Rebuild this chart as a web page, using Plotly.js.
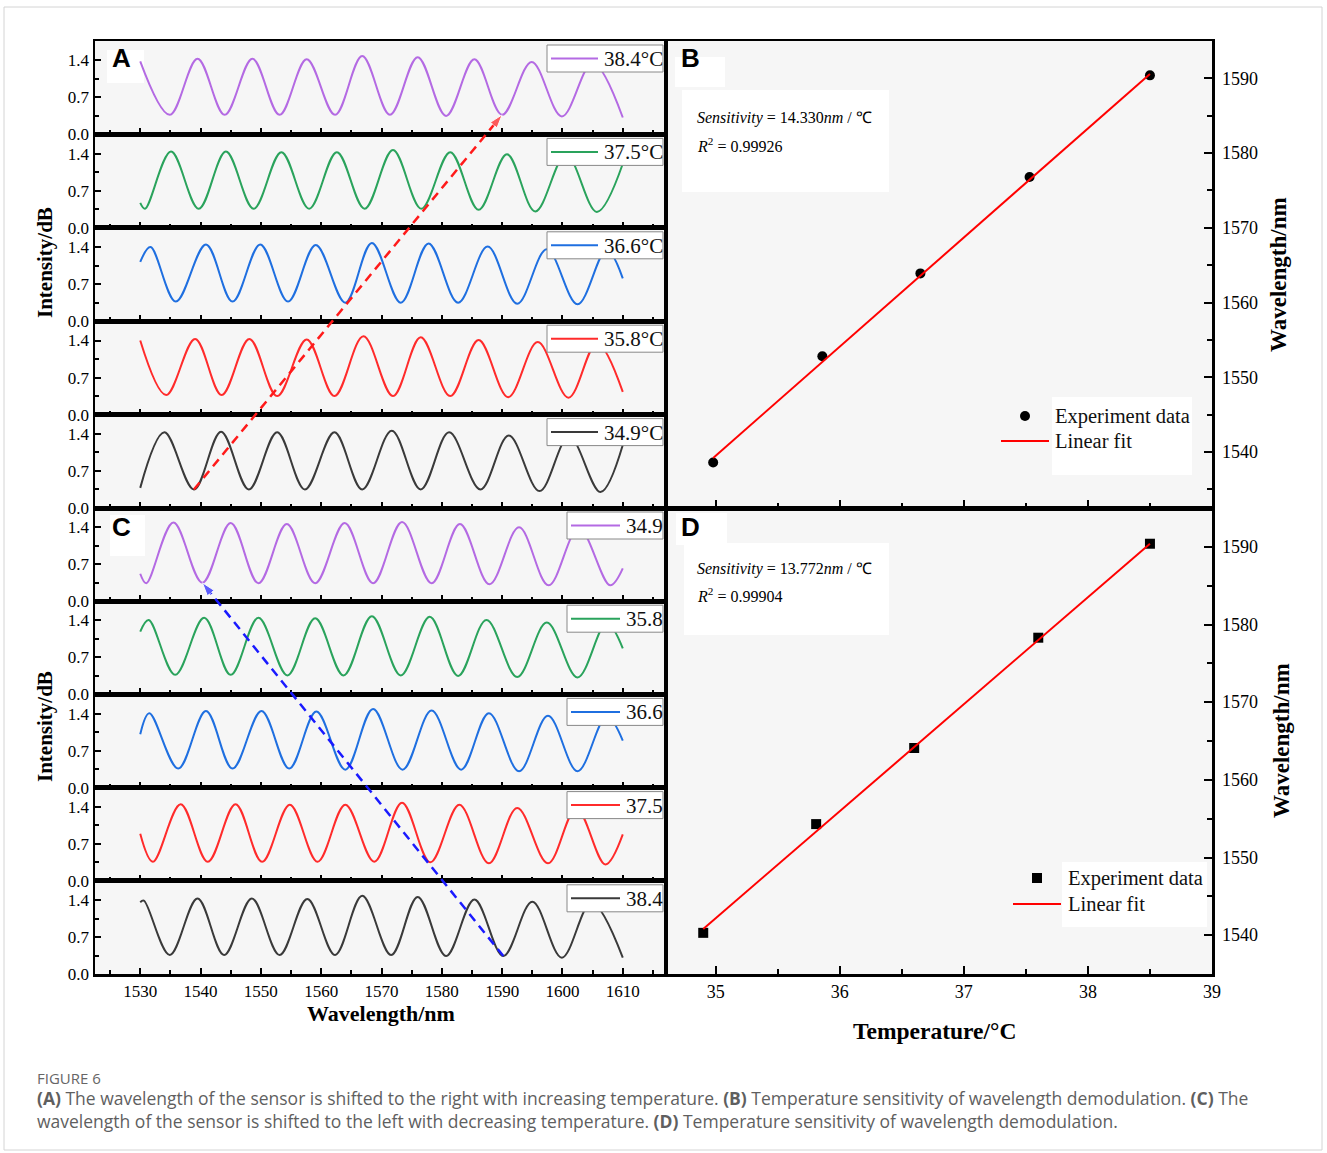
<!DOCTYPE html>
<html><head><meta charset="utf-8">
<script src="https://cdn.plot.ly/plotly-3.0.1.min.js"></script>
<style>html,body{margin:0;padding:0;background:#fff;}#chart{width:1327px;height:1153px;}</style>
</head><body><div id="chart"></div>
<script>
// ---------- DATA ----------
// Panel A (increasing temperature), wavelength (nm) / intensity of extrema
const a384x=[1530,1534.9,1539.5,1544.0,1548.6,1553.1,1557.6,1562.3,1566.8,1571.4,1576.0,1580.7,1585.4,1590.0,1594.9,1599.9,1605.0,1610];
const a384y=[1.38,0.37,1.43,0.37,1.43,0.37,1.42,0.37,1.48,0.37,1.46,0.35,1.42,0.37,1.37,0.34,1.35,0.32];
const a375x=[1530,1530.8,1535.1,1539.7,1544.2,1548.8,1553.4,1558.0,1562.6,1567.2,1571.9,1576.6,1581.4,1586.1,1590.8,1595.5,1600.6,1605.7,1610];
const a375y=[0.47,0.36,1.44,0.36,1.44,0.36,1.43,0.36,1.43,0.36,1.47,0.36,1.43,0.34,1.39,0.31,1.38,0.30,1.21];
const a366x=[1530,1531.7,1535.9,1540.9,1545.3,1549.9,1554.5,1559.1,1564.0,1568.4,1573.2,1577.8,1582.7,1587.6,1592.5,1597.4,1602.5,1607.3,1610];
const a366y=[1.12,1.40,0.37,1.45,0.37,1.45,0.37,1.44,0.35,1.48,0.35,1.47,0.35,1.41,0.33,1.36,0.32,1.35,0.81];
const a358x=[1530,1534.3,1539.1,1543.5,1548.1,1552.7,1557.6,1562.2,1567.0,1571.9,1576.5,1581.4,1586.1,1591.0,1595.9,1601.0,1605.7,1610];
const a358y=[1.40,0.37,1.43,0.37,1.43,0.35,1.42,0.35,1.48,0.35,1.46,0.35,1.41,0.33,1.37,0.32,1.35,0.43];
const a349x=[1530,1534.0,1538.9,1543.4,1548.0,1552.7,1557.3,1562.2,1566.8,1571.7,1576.5,1581.2,1586.4,1591.1,1596.2,1601.1,1606.3,1610];
const a349y=[0.38,1.43,0.35,1.44,0.35,1.43,0.35,1.43,0.35,1.46,0.35,1.43,0.35,1.37,0.32,1.35,0.30,1.19];
// Panel C (decreasing temperature)
const c349x=[1530,1531.0,1535.5,1540.3,1545.0,1549.6,1554.3,1559.0,1563.9,1568.6,1573.4,1578.3,1583.0,1587.9,1592.8,1597.7,1602.7,1607.9,1610];
const c349y=[0.52,0.34,1.49,0.35,1.48,0.34,1.46,0.34,1.48,0.34,1.50,0.34,1.46,0.32,1.40,0.30,1.38,0.30,0.62];
const c358x=[1530,1531.4,1535.8,1540.6,1545.0,1549.6,1554.4,1559.0,1563.7,1568.4,1573.2,1578.0,1582.7,1587.4,1592.5,1597.4,1602.5,1607.3,1610];
const c358y=[1.19,1.41,0.37,1.45,0.37,1.45,0.36,1.44,0.36,1.48,0.36,1.47,0.35,1.41,0.33,1.36,0.32,1.35,0.87];
const c366x=[1530,1531.5,1536.3,1540.9,1545.3,1550.1,1554.7,1559.2,1564.0,1568.6,1573.5,1578.3,1583.2,1587.8,1592.8,1597.6,1602.5,1607.3,1610];
const c366y=[1.01,1.41,0.36,1.45,0.36,1.45,0.36,1.44,0.34,1.49,0.34,1.46,0.34,1.41,0.31,1.36,0.31,1.35,0.89];
const c375x=[1530,1532.1,1536.7,1541.2,1545.8,1550.2,1554.8,1559.4,1564.0,1568.8,1573.4,1578.1,1582.9,1587.8,1592.5,1597.6,1602.3,1607.1,1610];
const c375y=[0.89,0.36,1.45,0.36,1.45,0.36,1.44,0.36,1.44,0.36,1.48,0.35,1.44,0.33,1.38,0.33,1.37,0.31,0.88];
const c384x=[1530,1530.6,1534.9,1539.5,1543.9,1548.5,1553.1,1557.7,1562.3,1566.8,1571.6,1576.0,1580.7,1585.4,1590.2,1595.0,1599.9,1604.8,1610];
const c384y=[1.36,1.39,0.36,1.43,0.36,1.43,0.36,1.42,0.36,1.48,0.36,1.46,0.34,1.41,0.34,1.37,0.31,1.35,0.31];
const labelsA=['38.4°C','37.5°C','36.6°C','35.8°C','34.9°C'];
const labelsC=['34.9','35.8','36.6','37.5','38.4'];
// Shift arrows: wavelength, row index (0 = top row), intensity
const arrowAX=[1538.9,1590.0], arrowARow=[4,0], arrowAY=[0.35,0.37];
const arrowCX=[1590.2,1540.3], arrowCRow=[4,0], arrowCY=[0.34,0.35];
// Panel B
const tempB=[34.98,35.86,36.65,37.53,38.5];
const wlB=[1538.6,1552.8,1563.9,1576.8,1590.4];
const fitBx=[34.98,38.5], fitBy=[1539.2,1590.6];
// Panel D
const tempD=[34.9,35.81,36.6,37.6,38.5];
const wlD=[1540.3,1554.3,1564.1,1578.3,1590.4];
const fitDx=[34.9,38.5], fitDy=[1540.8,1590.4];
// Tick labels
const intensityTickVals=[0,0.7,1.4];
const intensityTickText=['0.0','0.7','1.4'];
const intensityMinor=[0.35,1.05];
const fitLegend=['Experiment data','Linear fit'];

// ---------- STYLE ----------
const W=1327,H=1153;
const px=v=>v/W, py=v=>1-v/H;
const SERIF='Liberation Serif, Times New Roman, serif';
const SANS='Liberation Sans, Arial, sans-serif';
const COLORS=['#b46ae3','#2aa35c','#1f6fe0','#ff2b2b','#3a3a3a'];
const YMAX=1.765;
const XR=[1522.5,1617];
const LW=2.5;

const layout={width:W,height:H,margin:{l:0,r:0,t:0,b:0},paper_bgcolor:'#fff',plot_bgcolor:'rgba(0,0,0,0)',
  hovermode:false,showlegend:false,shapes:[],annotations:[],font:{family:SERIF,color:'#000'}};
const traces=[];

function rect(x0,y0,x1,y1,fill,line,layer){layout.shapes.push({type:'rect',xref:'paper',yref:'paper',x0:px(x0),x1:px(x1),y0:py(y1),y1:py(y0),
  fillcolor:fill,line:line||{width:0},layer:layer||'below'});}
function seg(x0,x1,y,color,w){layout.shapes.push({type:'line',xref:'paper',yref:'paper',x0:px(x0),x1:px(x1),y0:py(y),y1:py(y),
  line:{color:color,width:w||2},layer:'above'});}
function ann(x,y,text,font,o){layout.annotations.push(Object.assign({xref:'paper',yref:'paper',x:px(x),y:py(y),text:text,showarrow:false,
  font:font,xanchor:'center',yanchor:'middle'},o||{}));}

const waves=[[a384x,a384y],[a375x,a375y],[a366x,a366y],[a358x,a358y],[a349x,a349y],
             [c349x,c349y],[c358x,c358y],[c366x,c366y],[c375x,c375y],[c384x,c384y]];
const names=labelsA.concat(labelsC);
const cols=COLORS.concat(COLORS);
const LEGF={family:SERIF,size:21,color:'#111'};

function rowTop(i){return i<5?41+i*(467/5):508+(i-5)*(466/5);}
function rowH(i){return i<5?467/5:466/5;}

waves.forEach((w,i)=>{
  const k=i+1, s=k===1?'':String(k);
  const top=rowTop(i), bot=top+rowH(i);
  traces.push({type:'scatter',mode:'lines',x:w[0],y:w[1],name:names[i],xaxis:'x'+s,yaxis:'y'+s,
    line:{color:cols[i],width:2,shape:'spline',smoothing:1}});
  layout['xaxis'+s]={domain:[px(95),px(665)],range:XR,anchor:'y'+s,showline:true,mirror:true,linewidth:LW,linecolor:'#000',
    ticks:'inside',ticklen:6,tickwidth:2,tickcolor:'#000',tick0:1530,dtick:10,
    minor:{ticks:'inside',ticklen:4,tickwidth:2,tickcolor:'#000',tick0:1525,dtick:5,showgrid:false},
    showticklabels:i===9,tickfont:{family:SERIF,size:17,color:'#000'},showgrid:false,zeroline:false,fixedrange:true};
  layout['yaxis'+s]={domain:[py(bot),py(top)],range:[0,YMAX],anchor:'x'+s,showline:true,mirror:true,linewidth:LW,linecolor:'#000',
    ticks:'inside',ticklen:6,tickwidth:2,tickcolor:'#000',tickmode:'array',tickvals:intensityTickVals,ticktext:intensityTickText,
    minor:{ticks:'inside',ticklen:4,tickwidth:2,tickcolor:'#000',tickmode:'array',tickvals:intensityMinor,showgrid:false},
    tickfont:{family:SERIF,size:17,color:'#000'},showgrid:false,zeroline:false,fixedrange:true};
  // per-row legend box
  const narrow=i>=5;
  const bx0=narrow?567:547, lx0=narrow?571:551, lx1=narrow?620:598, tx=narrow?624:602;
  const ly=top+4;
  rect(bx0,ly,663,ly+27,'#fff',{color:'#888',width:1},'above');
  seg(lx0,lx1,ly+13.5,cols[i],2);
  ann(tx,ly+14,names[i],LEGF,{xanchor:'left'});
});

// Panels B & D
function rightAxes(s,top,bot,yr,labels){
  layout['xaxis'+s]={domain:[px(666),px(1212)],range:[34.6,39],anchor:'y'+s,showline:true,mirror:true,linewidth:LW,linecolor:'#000',
    ticks:'inside',ticklen:8,tickwidth:2,tickcolor:'#000',tick0:35,dtick:1,
    minor:{ticks:'inside',ticklen:5,tickwidth:2,tickcolor:'#000',dtick:0.5,tick0:34.5,showgrid:false},
    showticklabels:labels,tickfont:{family:SERIF,size:18,color:'#000'},showgrid:false,zeroline:false,fixedrange:true};
  layout['yaxis'+s]={domain:[py(bot),py(top)],range:yr,anchor:'x'+s,side:'right',showline:true,mirror:true,linewidth:LW,linecolor:'#000',
    ticks:'inside',ticklen:8,tickwidth:2,tickcolor:'#000',tick0:1540,dtick:10,ticklabelstandoff:4,
    minor:{ticks:'inside',ticklen:5,tickwidth:2,tickcolor:'#000',dtick:5,tick0:1535,showgrid:false},
    tickfont:{family:SERIF,size:18,color:'#000'},showgrid:false,zeroline:false,fixedrange:true};
}
rightAxes('11',41,508,[1532.5,1595],false);
rightAxes('12',508,974,[1535,1595],true);
traces.push({type:'scatter',mode:'markers',x:tempB,y:wlB,xaxis:'x11',yaxis:'y11',name:fitLegend[0],
  marker:{symbol:'circle',size:10,color:'#000'}});
traces.push({type:'scatter',mode:'lines',x:fitBx,y:fitBy,xaxis:'x11',yaxis:'y11',name:fitLegend[1],
  line:{color:'#ff0000',width:2}});
traces.push({type:'scatter',mode:'markers',x:tempD,y:wlD,xaxis:'x12',yaxis:'y12',name:fitLegend[0],
  marker:{symbol:'square',size:10,color:'#000'}});
traces.push({type:'scatter',mode:'lines',x:fitDx,y:fitDy,xaxis:'x12',yaxis:'y12',name:fitLegend[1],
  line:{color:'#ff0000',width:2}});

// Overlay axes for the dashed shift arrows
function overlay(s,top,bot){
  layout['xaxis'+s]={domain:[px(95),px(665)],range:XR,anchor:'y'+s,visible:false,fixedrange:true};
  layout['yaxis'+s]={domain:[py(bot),py(top)],range:[0,5*YMAX],anchor:'x'+s,visible:false,fixedrange:true};
}
overlay('13',41,508); overlay('14',508,974);
function stackY(rows,vals){return vals.map((v,j)=>(4-rows[j])*YMAX+v);}
traces.push({type:'scatter',mode:'lines+markers',x:arrowAX,y:stackY(arrowARow,arrowAY),xaxis:'x13',yaxis:'y13',
  line:{color:'#ff1a1a',width:2.5,dash:'9px,6px'},marker:{symbol:'arrow',size:[0,14],angleref:'previous',color:'#ff1a1a'}});
traces.push({type:'scatter',mode:'lines+markers',x:arrowCX,y:stackY(arrowCRow,arrowCY),xaxis:'x14',yaxis:'y14',
  line:{color:'#1a1aff',width:2.5,dash:'9px,6px'},marker:{symbol:'arrow',size:[0,14],angleref:'previous',color:'#1a1aff'}});

// ---------- BACKGROUND SHAPES ----------
rect(4,7,1322,1150,'#fff',{color:'#d4d4d4',width:1});
rect(95,41,665,508,'#f6f6f6'); rect(95,508,665,974,'#f6f6f6');
rect(666,41,1212,508,'#f6f6f6'); rect(666,508,1212,974,'#f6f6f6');
rect(107,50,144,83,'#fff'); rect(110,515,145,556,'#fff');
rect(675,57,725,87,'#fff'); rect(676,513,727,545,'#fff');
rect(682,90,889,192,'#fff'); rect(684,543,889,635,'#fff');
rect(1052,397,1192,475,'#fff'); rect(1062,862,1207,927,'#fff');

// ---------- LEGENDS B / D ----------
const FL={family:SERIF,size:20.5,color:'#111'};
layout.shapes.push({type:'circle',xref:'paper',yref:'paper',x0:px(1020),x1:px(1030),y0:py(421),y1:py(411),fillcolor:'#000',line:{width:0},layer:'above'});
seg(1001,1049,441,'#ff0000',2);
ann(1053,416,fitLegend[0],FL,{xanchor:'left'}); ann(1053,441,fitLegend[1],FL,{xanchor:'left'});
layout.shapes.push({type:'rect',xref:'paper',yref:'paper',x0:px(1032),x1:px(1042),y0:py(883),y1:py(873),fillcolor:'#000',line:{width:0},layer:'above'});
seg(1013,1061,904,'#ff0000',2);
ann(1066,878,fitLegend[0],FL,{xanchor:'left'}); ann(1066,904,fitLegend[1],FL,{xanchor:'left'});

// ---------- TEXT ----------
const L={family:SANS,size:26,color:'#000'};
ann(121,58,'<b>A</b>',L); ann(690,58,'<b>B</b>',L); ann(121,527,'<b>C</b>',L); ann(690,527,'<b>D</b>',L);
const TF={family:SERIF,size:16,color:'#000'};
ann(695,118,'<i>Sensitivity</i> = 14.330<i>nm</i> / ℃',TF,{xanchor:'left'});
ann(695,145,'<i>R</i><sup>2</sup> = 0.99926',TF,{xanchor:'left'});
ann(695,569,'<i>Sensitivity</i> = 13.772<i>nm</i> / ℃',TF,{xanchor:'left'});
ann(695,595,'<i>R</i><sup>2</sup> = 0.99904',TF,{xanchor:'left'});
ann(45,263,'<b>Intensity/dB</b>',{family:SERIF,size:21,color:'#000'},{textangle:-90});
ann(45,727,'<b>Intensity/dB</b>',{family:SERIF,size:21,color:'#000'},{textangle:-90});
ann(1279,275,'<b>Wavelength/nm</b>',{family:SERIF,size:23,color:'#000'},{textangle:-90});
ann(1281,741,'<b>Wavelength/nm</b>',{family:SERIF,size:23,color:'#000'},{textangle:-90});
ann(381,1013,'<b>Wavelength/nm</b>',{family:SERIF,size:22,color:'#000'});
ann(934,1031,'<b>Temperature/°C</b>',{family:SERIF,size:23.5,color:'#000'});
const CAP={family:'Open Sans, Noto Sans, sans-serif',size:17.5,color:'#5f5f5f'};
ann(35,1078,'FIGURE 6',{family:'Open Sans, Noto Sans, sans-serif',size:15,color:'#666'},{xanchor:'left'});
ann(35,1098,'<b>(A)</b> The wavelength of the sensor is shifted to the right with increasing temperature. <b>(B)</b> Temperature sensitivity of wavelength demodulation. <b>(C)</b> The',CAP,{xanchor:'left'});
ann(35,1121,'wavelength of the sensor is shifted to the left with decreasing temperature. <b>(D)</b> Temperature sensitivity of wavelength demodulation.',CAP,{xanchor:'left'});

Plotly.newPlot('chart',traces,layout,{staticPlot:true,displayModeBar:false});
</script></body></html>
